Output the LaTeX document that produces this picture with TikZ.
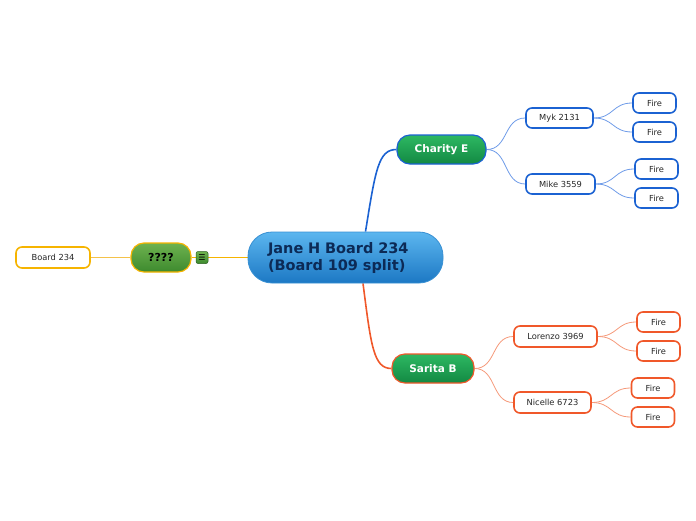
\documentclass[tikz,border=0pt]{standalone}
\usepackage{fontspec}
\setmainfont{DejaVu Sans}
\usetikzlibrary{positioning,backgrounds}

\definecolor{bluebr}{HTML}{1B62D2}
\definecolor{bluethin}{HTML}{6E9BE8}
\definecolor{redbr}{HTML}{F0582A}
\definecolor{redthin}{HTML}{F5997A}
\definecolor{yellowbr}{HTML}{F6B400}
\definecolor{yellowthin}{HTML}{F4C24A}
\definecolor{maintop}{HTML}{5CB6EF}
\definecolor{mainbot}{HTML}{1C78C4}
\definecolor{mainbr}{HTML}{3890D3}
\definecolor{maintext}{HTML}{0C2A56}
\definecolor{greentop}{HTML}{2DB862}
\definecolor{greenbot}{HTML}{138943}
\definecolor{olivetop}{HTML}{6EB24F}
\definecolor{olivebot}{HTML}{3D8A2E}

\begin{document}
\begin{tikzpicture}[x=1pt, y=-1pt,
  topic/.style={rectangle, rounded corners=13pt, inner sep=0pt, minimum height=29pt,
    top color=greentop, bottom color=greenbot, line width=1.2pt, text=white,
    font=\fontsize{10.5}{12}\selectfont\bfseries},
  leaf/.style={rectangle, rounded corners=6pt, inner sep=0pt, minimum height=20pt,
    fill=white, line width=1.6pt, text=black!85, font=\fontsize{8.3}{10}\selectfont},
  fire/.style={leaf, minimum width=43pt},
  branch/.style={line width=1.6pt},
  twig/.style={line width=0.8pt}]
\path[use as bounding box] (0,0) rectangle (696,520);

% central topic
\node[rectangle, rounded corners=24pt, minimum width=195pt, minimum height=51pt,
  inner xsep=20pt, inner ysep=0pt, text width=155pt, align=left,
  top color=maintop, bottom color=mainbot, draw=mainbr, line width=0.8pt,
  text=maintext, font=\fontsize{14.5}{17}\selectfont\bfseries]
  (main) at (345.5,257.5) {Jane H Board 234\\(Board 109 split)};

% main branches
\node[topic, draw=bluebr, minimum width=89pt] (charity) at (441.5,149.5) {Charity E};
\node[topic, draw=redbr, minimum width=82pt] (sarita) at (433,368.5) {Sarita B};
\node[topic, draw=yellowbr, minimum width=60pt, top color=olivetop, bottom color=olivebot,
  text=black, font=\fontsize{11}{12}\selectfont\bfseries] (unknown) at (161,257.5) {????};

% note icon
\node[rectangle, rounded corners=2pt, minimum size=12pt, inner sep=0pt,
  top color=olivetop, bottom color=olivebot, draw=olivebot!70!black, line width=0.5pt,
  font=\fontsize{8}{8}\selectfont] (note) at (202,257.5) {☰};

% sub topics
\node[leaf, draw=yellowbr, minimum width=74pt, minimum height=21pt] (board) at (53,257.5) {Board 234};
\node[leaf, draw=bluebr, minimum width=67pt] (myk) at (559.5,118) {Myk 2131};
\node[leaf, draw=bluebr, minimum width=69pt] (mike) at (560.5,184) {Mike 3559};
\node[leaf, draw=redbr, minimum width=83pt, minimum height=21pt] (lorenzo) at (555.5,336.5) {Lorenzo 3969};
\node[leaf, draw=redbr, minimum width=77pt, minimum height=21pt] (nicelle) at (552.5,402.5) {Nicelle 6723};

% leaves
\node[fire, draw=bluebr] (myk1) at (654.5,103) {Fire};
\node[fire, draw=bluebr] (myk2) at (654.5,132) {Fire};
\node[fire, draw=bluebr] (mike1) at (656.5,169) {Fire};
\node[fire, draw=bluebr] (mike2) at (656.5,198) {Fire};
\node[fire, draw=redbr] (lorenzo1) at (658.5,322) {Fire};
\node[fire, draw=redbr] (lorenzo2) at (658.5,351) {Fire};
\node[fire, draw=redbr] (nicelle1) at (653,388) {Fire};
\node[fire, draw=redbr] (nicelle2) at (653,417) {Fire};

\begin{scope}[on background layer]
\draw[branch, bluebr] ([xshift=20pt]main.north) .. controls +(10,-62) and +(-18,0) .. (charity.west);
\draw[branch, redbr] ([xshift=17.5pt]main.south) .. controls +(8,62) and +(-18,0) .. (sarita.west);
\draw[line width=1pt, color=yellowbr] (main.west) -- (unknown.east);
\draw[line width=1pt, color=yellowthin] (unknown.west) -- (board.east);
\draw[twig, bluethin] (charity.east) .. controls +(22,0) and +(-22,0) .. (myk.west);
\draw[twig, bluethin] (charity.east) .. controls +(22,0) and +(-22,0) .. (mike.west);
\draw[twig, redthin] (sarita.east) .. controls +(22,0) and +(-22,0) .. (lorenzo.west);
\draw[twig, redthin] (sarita.east) .. controls +(22,0) and +(-22,0) .. (nicelle.west);
\foreach \p/\c in {myk/myk1, myk/myk2, mike/mike1, mike/mike2}
  \draw[twig, bluethin] (\p.east) .. controls +(20,0) and +(-20,0) .. (\c.west);
\foreach \p/\c in {lorenzo/lorenzo1, lorenzo/lorenzo2, nicelle/nicelle1, nicelle/nicelle2}
  \draw[twig, redthin] (\p.east) .. controls +(20,0) and +(-20,0) .. (\c.west);
\end{scope}
\end{tikzpicture}
\end{document}
